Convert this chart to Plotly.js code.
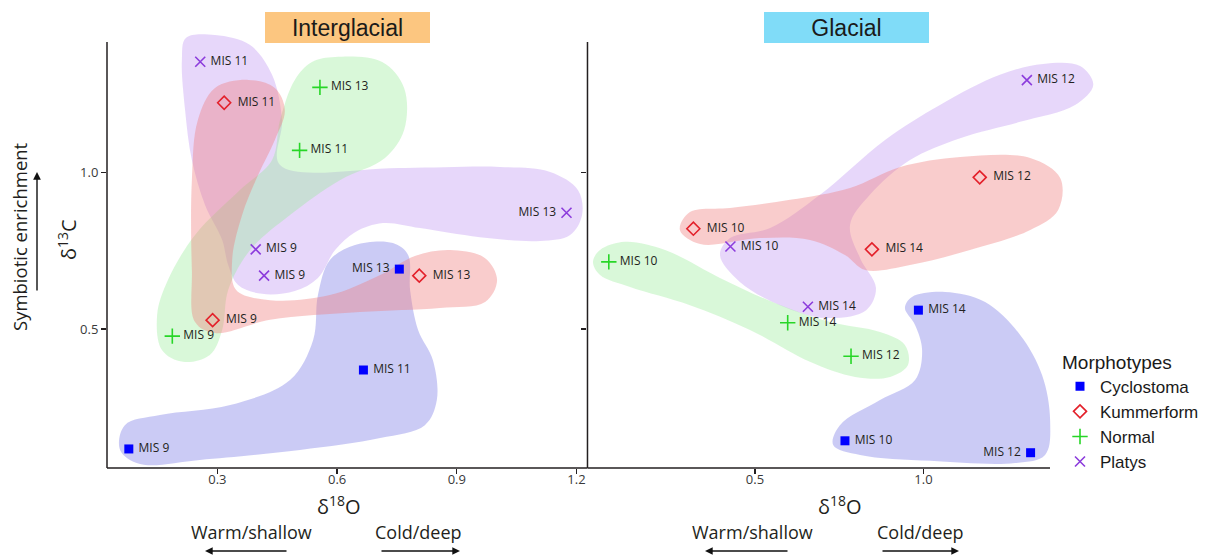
<!DOCTYPE html>
<html><head><meta charset="utf-8">
<script src="https://cdn.plot.ly/plotly-3.0.1.min.js"></script>
<style>html,body{margin:0;padding:0;background:#fff}#chart{width:1223px;height:556px}</style>
</head><body><div id="chart"></div>
<script>
// ---------------- DATA ----------------
const morphotypes = ['Cyclostoma', 'Kummerform', 'Normal', 'Platys'];

// Interglacial panel (δ18O, δ13C)
const igCycloX = [0.078, 0.666, 0.756];
const igCycloY = [0.117, 0.369, 0.691];
const igCycloLab = ['MIS 9', 'MIS 11', 'MIS 13'];
const igKummX = [0.288, 0.317, 0.806];
const igKummY = [0.528, 1.222, 0.670];
const igKummLab = ['MIS 9', 'MIS 11', 'MIS 13'];
const igNormX = [0.187, 0.506, 0.557];
const igNormY = [0.477, 1.070, 1.271];
const igNormLab = ['MIS 9', 'MIS 11', 'MIS 13'];
const igPlatX = [0.396, 0.417, 0.257, 1.175];
const igPlatY = [0.754, 0.670, 1.353, 0.871];
const igPlatLab = ['MIS 9', 'MIS 9', 'MIS 11', 'MIS 13'];

// Glacial panel
const glCycloX = [0.767, 1.318, 0.985];
const glCycloY = [0.143, 0.105, 0.560];
const glCycloLab = ['MIS 10', 'MIS 12', 'MIS 14'];
const glKummX = [0.317, 1.167, 0.847];
const glKummY = [0.820, 0.984, 0.754];
const glKummLab = ['MIS 10', 'MIS 12', 'MIS 14'];
const glNormX = [0.066, 0.785, 0.597];
const glNormY = [0.714, 0.413, 0.520];
const glNormLab = ['MIS 10', 'MIS 12', 'MIS 14'];
const glPlatX = [0.427, 1.307, 0.657];
const glPlatY = [0.763, 1.294, 0.571];
const glPlatLab = ['MIS 10', 'MIS 12', 'MIS 14'];

// Shaded group outlines (data units)
const igPlatHullX = [0.221,0.294,0.382,0.437,0.462,0.457,0.758,1.008,1.134,1.204,1.214,1.184,1.109,0.958,0.808,0.715,0.645,0.595,0.552,0.494,0.412,0.352,0.327,0.312,0.269,0.236,0.219,0.211];
const igPlatHullY = [1.429,1.438,1.406,1.311,1.167,1.023,1.014,1.017,1.001,0.943,0.864,0.800,0.781,0.793,0.822,0.838,0.809,0.752,0.663,0.621,0.612,0.640,0.704,0.784,0.896,1.039,1.199,1.358];
const igKummHullX = [0.377,0.444,0.469,0.444,0.402,0.362,0.337,0.347,0.432,0.582,0.708,0.795,0.883,0.971,1.001,0.971,0.858,0.657,0.432,0.294,0.244,0.236,0.236,0.251,0.294];
const igKummHullY = [1.295,1.269,1.199,1.103,0.991,0.864,0.720,0.624,0.592,0.608,0.672,0.733,0.752,0.726,0.656,0.586,0.567,0.554,0.529,0.487,0.522,0.688,0.975,1.167,1.269];
const igNormHullX = [0.595,0.713,0.768,0.768,0.720,0.607,0.482,0.382,0.327,0.312,0.281,0.214,0.161,0.149,0.176,0.244,0.357,0.437,0.457,0.494,0.537];
const igNormHullY = [1.368,1.352,1.269,1.135,1.046,0.975,0.864,0.752,0.624,0.497,0.417,0.395,0.433,0.545,0.656,0.800,0.944,1.039,1.167,1.295,1.352];
const igCycloHullX = [0.740,0.778,0.783,0.803,0.840,0.850,0.820,0.708,0.507,0.256,0.106,0.056,0.068,0.156,0.332,0.482,0.540,0.552,0.582,0.645];
const igCycloHullY = [0.774,0.736,0.624,0.497,0.401,0.273,0.193,0.152,0.114,0.082,0.069,0.114,0.193,0.225,0.257,0.337,0.465,0.608,0.720,0.768];

const glPlatHullX = [1.355,1.465,1.504,1.450,1.287,1.109,0.960,0.841,0.782,0.812,0.859,0.830,0.711,0.574,0.455,0.396,0.426,0.545,0.693,0.886,1.049,1.227];
const glPlatHullY = [1.346,1.339,1.279,1.215,1.161,1.109,1.039,0.928,0.832,0.726,0.631,0.560,0.535,0.576,0.650,0.736,0.790,0.822,0.928,1.103,1.215,1.311];
const glKummHullX = [0.307,0.426,0.604,0.782,0.931,1.109,1.317,1.406,1.400,1.317,1.138,0.960,0.827,0.767,0.663,0.515,0.337,0.277];
const glKummHullY = [0.873,0.886,0.912,0.950,1.017,1.049,1.046,0.982,0.880,0.816,0.752,0.704,0.688,0.736,0.784,0.790,0.771,0.816];
const glNormHullX = [0.040,0.114,0.233,0.396,0.559,0.723,0.871,0.945,0.954,0.901,0.797,0.663,0.485,0.307,0.129,0.040,0.019];
const glNormHullY = [0.752,0.778,0.752,0.663,0.583,0.522,0.490,0.449,0.385,0.347,0.347,0.395,0.497,0.576,0.634,0.672,0.714];
const glCycloHullX = [0.966,1.064,1.183,1.287,1.352,1.376,1.361,1.272,1.020,0.812,0.732,0.752,0.871,0.975,0.996,0.975,0.945];
const glCycloHullY = [0.602,0.618,0.586,0.481,0.353,0.209,0.098,0.072,0.079,0.098,0.130,0.193,0.273,0.337,0.433,0.513,0.567];

const igTicks = [0.3, 0.6, 0.9, 1.2];
const glTicks = [0.5, 1.0];
const yTicks = [0.5, 1.0];
const labelsOnLeft = ['ig|Cyclostoma|MIS 13', 'ig|Platys|MIS 13', 'gl|Cyclostoma|MIS 12'];

// ---------------- STYLE / GEOMETRY ----------------
const W = 1223, H = 556, PL = 107, PR = 1102, PT = 31, PB = 468;
const igRange = [0.0233, 1.2276];
const glRange = [0.0027, 1.53];
const yRange = [0.0562, 1.451];
const split = 0.4829;
const axisColor = '#231f20';
const txtFont = 'Open Sans, Noto Sans, sans-serif';
const boxFont = 'Liberation Sans, Arial, sans-serif';
const px = v => (v - PL) / (PR - PL);
const py = v => (PB - v) / (PB - PT);

const mstyle = {
  Cyclostoma: {symbol: 'square', size: 9, color: '#0000ff', line: {width: 0}},
  Kummerform: {symbol: 'diamond-open', size: 10, color: '#e3202a', line: {width: 1.6, color: '#e3202a'}},
  Normal: {symbol: 'cross-thin-open', size: 11, color: '#27d627', line: {width: 1.6, color: '#27d627'}},
  Platys: {symbol: 'x-thin-open', size: 10, color: '#8c3cdc', line: {width: 1.6, color: '#8c3cdc'}}
};
const pad = {Cyclostoma: '\u00a0', Kummerform: '\u00a0\u00a0', Normal: '\u00a0', Platys: '\u00a0'};
const fills = {
  Platys: 'rgba(189,144,241,0.36)',
  Normal: 'rgba(150,235,150,0.36)',
  Cyclostoma: 'rgba(110,110,228,0.36)',
  Kummerform: 'rgba(240,120,120,0.38)'
};

function hull(xs, ys, m, xa, ya) {
  return {
    x: xs.concat([xs[0]]), y: ys.concat([ys[0]]),
    xaxis: xa, yaxis: ya, type: 'scatter', mode: 'lines',
    line: {shape: 'spline', smoothing: 1, width: 0, color: fills[m]},
    fill: 'toself', fillcolor: fills[m], hoverinfo: 'skip', showlegend: false
  };
}
function pts(panel, m, xs, ys, labs, xa, ya, showleg) {
  return {
    x: xs, y: ys, xaxis: xa, yaxis: ya, type: 'scatter', mode: 'markers+text',
    name: m, legendgroup: m, showlegend: showleg,
    marker: mstyle[m],
    text: labs.map(l => labelsOnLeft.includes(panel + '|' + m + '|' + l) ? l + pad[m] : pad[m] + l),
    textposition: labs.map(l => labelsOnLeft.includes(panel + '|' + m + '|' + l) ? 'middle left' : 'middle right'),
    textfont: {family: txtFont, size: 12, color: '#231f20'},
    cliponaxis: false, hoverinfo: 'x+y+text'
  };
}

const data = [
  hull(igPlatHullX, igPlatHullY, 'Platys', 'x', 'y'),
  hull(igNormHullX, igNormHullY, 'Normal', 'x', 'y'),
  hull(igCycloHullX, igCycloHullY, 'Cyclostoma', 'x', 'y'),
  hull(igKummHullX, igKummHullY, 'Kummerform', 'x', 'y'),
  hull(glPlatHullX, glPlatHullY, 'Platys', 'x2', 'y2'),
  hull(glNormHullX, glNormHullY, 'Normal', 'x2', 'y2'),
  hull(glCycloHullX, glCycloHullY, 'Cyclostoma', 'x2', 'y2'),
  hull(glKummHullX, glKummHullY, 'Kummerform', 'x2', 'y2'),
  pts('ig', 'Cyclostoma', igCycloX, igCycloY, igCycloLab, 'x', 'y', true),
  pts('ig', 'Kummerform', igKummX, igKummY, igKummLab, 'x', 'y', true),
  pts('ig', 'Normal', igNormX, igNormY, igNormLab, 'x', 'y', true),
  pts('ig', 'Platys', igPlatX, igPlatY, igPlatLab, 'x', 'y', true),
  pts('gl', 'Cyclostoma', glCycloX, glCycloY, glCycloLab, 'x2', 'y2', false),
  pts('gl', 'Kummerform', glKummX, glKummY, glKummLab, 'x2', 'y2', false),
  pts('gl', 'Normal', glNormX, glNormY, glNormLab, 'x2', 'y2', false),
  pts('gl', 'Platys', glPlatX, glPlatY, glPlatLab, 'x2', 'y2', false)
];

const tickFont = {family: txtFont, size: 13, color: '#3a3a3a'};
const axBase = {showgrid: false, zeroline: false, showline: false, ticks: 'outside', ticklen: 5,
  tickwidth: 1.3, tickcolor: axisColor, tickfont: tickFont, fixedrange: true};

const yTop = yRange[0] + (PB - 42) / (PB - PT) * (yRange[1] - yRange[0]);
const glXEnd = glRange[0] + (1050 - (PL + split * (PR - PL))) / ((1 - split) * (PR - PL)) * (glRange[1] - glRange[0]);

const shapes = [
  {type: 'line', xref: 'x domain', yref: 'y', x0: 0, x1: 0, y0: yRange[0], y1: yTop, line: {color: axisColor, width: 1.5}},
  {type: 'line', xref: 'x2 domain', yref: 'y2', x0: 0, x1: 0, y0: yRange[0], y1: yTop, line: {color: axisColor, width: 1.5}},
  {type: 'line', xref: 'x domain', yref: 'y domain', x0: 0, x1: 1, y0: 0, y1: 0, line: {color: axisColor, width: 1.5}},
  {type: 'line', xref: 'x2', yref: 'y2 domain', x0: glRange[0], x1: glXEnd, y0: 0, y1: 0, line: {color: axisColor, width: 1.5}}
];

function arrow(hx, tx, yy) {
  return {xref: 'paper', yref: 'paper', x: px(hx), y: py(yy), ax: tx - hx, ay: 0, text: '',
    showarrow: true, arrowhead: 2, arrowsize: 1.1, arrowwidth: 1.4, arrowcolor: '#111', standoff: 0, startstandoff: 0};
}
function label(txt, cx, cy, size, angle) {
  return {xref: 'paper', yref: 'paper', x: px(cx), y: py(cy), xanchor: 'center', yanchor: 'middle',
    text: txt, showarrow: false, textangle: angle || 0, font: {family: txtFont, size: size, color: '#231f20'}};
}

const annotations = [
  {xref: 'paper', yref: 'paper', x: px(347.5), y: py(27.5), xanchor: 'center', yanchor: 'middle',
   text: 'Interglacial', showarrow: false, bgcolor: '#fcc680', width: 165, height: 31,
   borderpad: 0, borderwidth: 0, font: {family: boxFont, size: 23, color: '#1a1a1a'}},
  {xref: 'paper', yref: 'paper', x: px(846), y: py(27.5), xanchor: 'center', yanchor: 'middle',
   text: 'Glacial', showarrow: false, bgcolor: '#80dcf8', width: 165, height: 31,
   borderpad: 0, borderwidth: 0, font: {family: boxFont, size: 23, color: '#1a1a1a'}},
  label('δ<sup>13</sup>C', 67, 240, 20, -90),
  label('Symbiotic enrichment', 19, 237, 18.5, -90),
  {xref: 'paper', yref: 'paper', x: px(37), y: py(172), ax: 0, ay: 120, text: '', showarrow: true,
   arrowhead: 2, arrowsize: 1.1, arrowwidth: 1.4, arrowcolor: '#111', standoff: 0},
  label('δ<sup>18</sup>O', 339, 505, 20, 0),
  label('δ<sup>18</sup>O', 840, 505, 20, 0),
  label('Warm/shallow', 251, 532, 18, 0),
  label('Cold/deep', 418, 532, 18, 0),
  label('Warm/shallow', 752, 532, 18, 0),
  label('Cold/deep', 920, 532, 18, 0),
  arrow(205, 288, 551), arrow(460, 380, 551),
  arrow(705, 789, 551), arrow(959, 881, 551)
];

const layout = {
  width: W, height: H,
  margin: {l: PL, r: W - PR, t: PT, b: H - PB, pad: 0},
  paper_bgcolor: '#ffffff', plot_bgcolor: 'rgba(0,0,0,0)',
  font: {family: txtFont, color: '#231f20'},
  xaxis: Object.assign({}, axBase, {domain: [0, split], range: igRange, tickvals: igTicks,
    ticktext: igTicks.map(v => v.toFixed(1)), anchor: 'y', ticklabelstandoff: -6}),
  xaxis2: Object.assign({}, axBase, {domain: [split, 1], range: glRange, tickvals: glTicks,
    ticktext: glTicks.map(v => v.toFixed(1)), anchor: 'y2', ticklabelstandoff: -6}),
  yaxis: Object.assign({}, axBase, {domain: [0, 1], range: yRange, tickvals: yTicks,
    ticktext: yTicks.map(v => v.toFixed(1)), anchor: 'x'}),
  yaxis2: Object.assign({}, axBase, {domain: [0, 1], range: yRange, tickvals: yTicks,
    showticklabels: false, anchor: 'x2'}),
  showlegend: true,
  legend: {x: px(1060), y: py(344), xanchor: 'left', yanchor: 'top', bgcolor: 'rgba(0,0,0,0)',
    borderwidth: 0, tracegroupgap: 0, traceorder: 'normal',
    font: {family: boxFont, size: 17, color: '#1a1a1a'},
    title: {text: 'Morphotypes', font: {family: boxFont, size: 19, color: '#1a1a1a'}}},
  shapes: shapes,
  annotations: annotations,
  hovermode: 'closest'
};

Plotly.newPlot('chart', data, layout, {displayModeBar: false, staticPlot: true});
</script>
</body></html>
